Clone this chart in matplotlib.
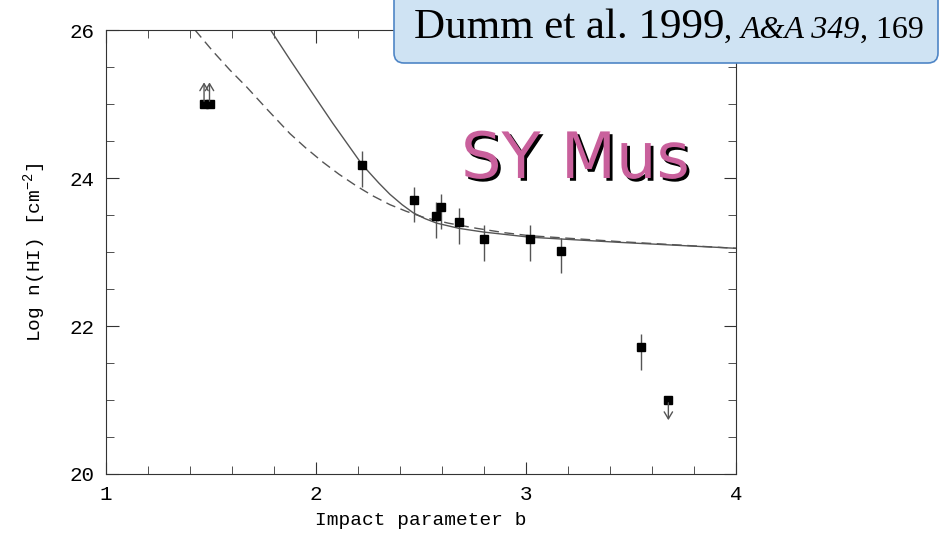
import matplotlib
matplotlib.use("Agg")
import matplotlib.pyplot as plt
import matplotlib.patheffects as pe
from matplotlib.patches import FancyBboxPatch
from matplotlib.offsetbox import TextArea, HPacker, AnnotationBbox

# measured points (impact parameter b, log n(HI))
b_pts = [2.22, 2.465, 2.573, 2.594, 2.68, 2.80, 3.02, 3.167, 3.548]
logn_pts = [24.18, 23.70, 23.49, 23.61, 23.41, 23.18, 23.18, 23.01, 21.71]
err_up = [0.18, 0.18, 0.18, 0.18, 0.18, 0.18, 0.18, 0.18, 0.18]
err_dn = [0.30, 0.30, 0.30, 0.30, 0.30, 0.30, 0.30, 0.30, 0.30]

# lower limits (arrows up) and upper limit (arrow down)
b_low = [1.467, 1.493]
logn_low = [25.0, 25.0]
b_up = [3.678]
logn_up = [21.0]

# model curves
sol_b = [1.784, 1.876, 1.98, 2.08, 2.15, 2.22, 2.30, 2.352, 2.41, 2.463, 2.52,
         2.575, 2.68, 2.797, 3.019, 3.448, 4.0]
sol_y = [26.0, 25.60, 25.16, 24.74, 24.46, 24.18, 23.93, 23.78, 23.64, 23.53, 23.45,
         23.39, 23.32, 23.27, 23.20, 23.13, 23.05]
das_b = [1.424, 1.51, 1.59, 1.67, 1.77, 1.876, 1.95, 2.035, 2.11, 2.194, 2.27, 2.352,
         2.43, 2.511, 2.63, 2.765, 2.9, 3.019, 3.448, 4.0]
das_y = [26.0, 25.71, 25.46, 25.23, 24.92, 24.60, 24.41, 24.21, 24.05, 23.89, 23.76, 23.64,
         23.55, 23.47, 23.39, 23.32, 23.26, 23.22, 23.14, 23.05]

mono = "Liberation Mono"
plt.rcParams["mathtext.fontset"] = "custom"
plt.rcParams["mathtext.rm"] = mono

fig = plt.figure(figsize=(9.42, 5.39), dpi=100)
ax = fig.add_axes([0.1125, 0.1206, 0.6688, 0.8237])

ax.plot(sol_b, sol_y, color="#555555", lw=1)
ax.plot(das_b, das_y, color="#555555", lw=1, ls=(0, (7, 4)))

ax.errorbar(b_pts, logn_pts, yerr=[err_dn, err_up], fmt="s", ms=5.5, color="black",
            ecolor="#555555", elinewidth=1, capsize=0)

ax.plot(b_low, logn_low, "s", ms=5.5, color="black")
for x, y in zip(b_low, logn_low):
    ax.annotate("", xy=(x, y + 0.33), xytext=(x, y),
                arrowprops=dict(arrowstyle="->,head_length=0.5,head_width=0.3", color="#555555", lw=1))
ax.plot(b_up, logn_up, "s", ms=5.5, color="black")
for x, y in zip(b_up, logn_up):
    ax.annotate("", xy=(x, y - 0.31), xytext=(x, y),
                arrowprops=dict(arrowstyle="->,head_length=0.5,head_width=0.3", color="#555555", lw=1))

ax.set_xlim(1, 4)
ax.set_ylim(20, 26)
ax.set_xticks([1, 2, 3, 4])
ax.set_yticks([20, 22, 24, 26])
ax.set_xticks([1 + 0.2 * i for i in range(16)], minor=True)
ax.set_yticks([20 + 0.5 * i for i in range(13)], minor=True)
ax.tick_params(which="both", direction="in", top=True, right=True, color="#333333")
ax.tick_params(which="major", length=9, labelsize=15)
ax.tick_params(axis="x", which="major", pad=8)
ax.tick_params(axis="y", which="major", pad=8)
ax.tick_params(which="minor", length=5.5)
for lab in ax.get_xticklabels() + ax.get_yticklabels():
    lab.set_family(mono)
for s in ax.spines.values():
    s.set_color("#333333")

ax.set_xlabel("Impact parameter b", family=mono, fontsize=14, labelpad=6)
ax.set_ylabel("Log n(HI) [cm$^{-2}$]", family=mono, fontsize=14, labelpad=15)

# reference box
box = FancyBboxPatch((394, 476), 544, 80, boxstyle="round,pad=0,rounding_size=10",
                     transform=None, facecolor="#cfe3f3", edgecolor="#4f86c6", lw=1.2,
                     zorder=5)
fig.patches.append(box)
serif = "Liberation Serif"
parts = [
    TextArea("Dumm et al. 1999", textprops=dict(family=serif, size=31)),
    TextArea(", ", textprops=dict(family=serif, size=23)),
    TextArea("A&A 349", textprops=dict(family=serif, size=23, style="italic")),
    TextArea(", 169", textprops=dict(family=serif, size=23)),
]
pack = HPacker(children=parts, align="baseline", pad=0, sep=0)
ab = AnnotationBbox(pack, (414, 492), xycoords="figure pixels", box_alignment=(0, 0),
                    frameon=False, zorder=6)
fig.add_artist(ab)

fig.text(461, 361, "SY Mus", transform=None, fontsize=46, color="#c9609c",
         family="DejaVu Sans",
         path_effects=[pe.withSimplePatchShadow(offset=(2, -2), shadow_rgbFace="black", alpha=1)])

fig.savefig("out.png", dpi=100)
